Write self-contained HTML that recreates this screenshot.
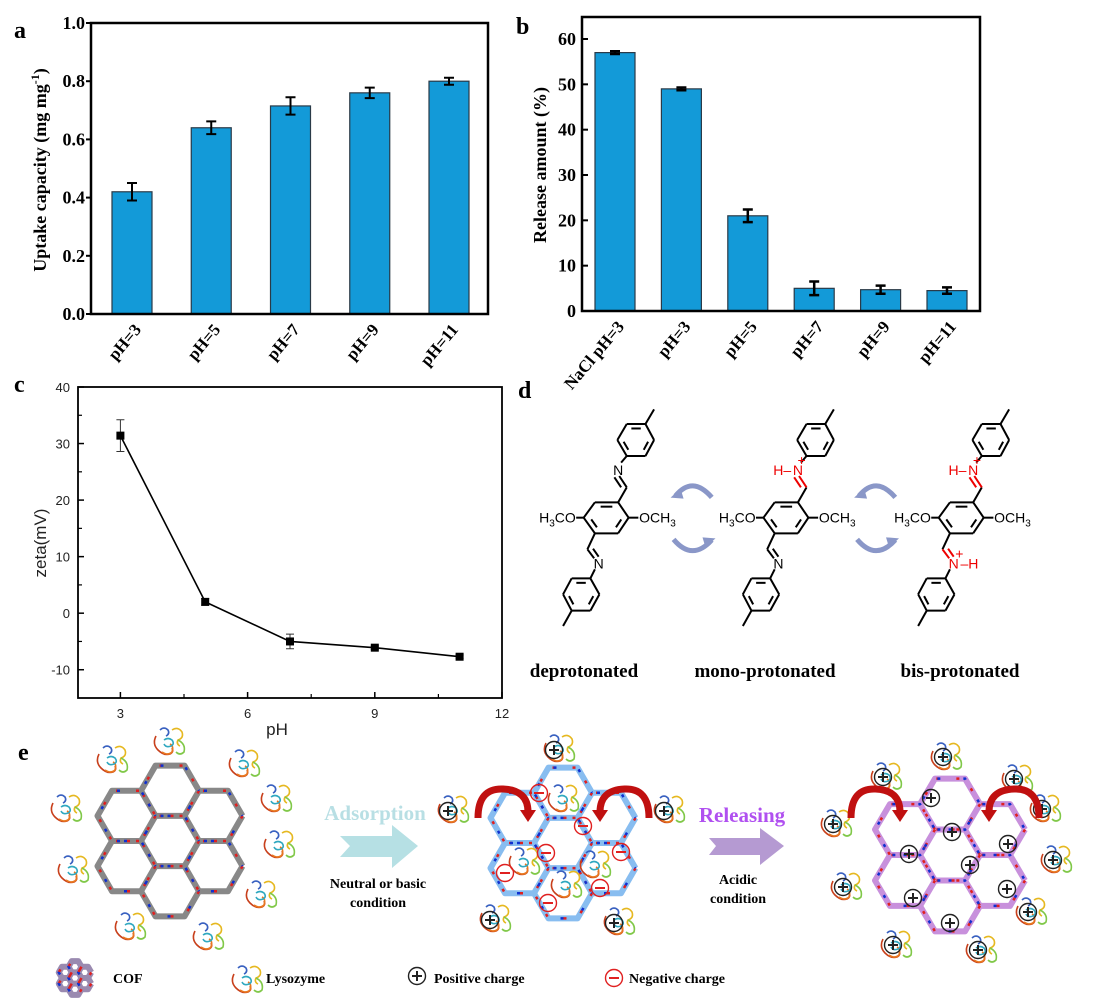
<!DOCTYPE html>
<html><head><meta charset="utf-8"><style>
html,body{margin:0;padding:0;background:#fff;}
svg{display:block;}
.serif{font-family:"Liberation Serif",serif;font-weight:bold;}
.sans{font-family:"Liberation Sans",sans-serif;}
</style></head><body>
<svg id="fig" width="1104" height="1000" viewBox="0 0 1104 1000" xmlns="http://www.w3.org/2000/svg">
<text x="14" y="38" class="serif" font-size="24">a</text>
<text x="516" y="34" class="serif" font-size="24">b</text>
<text x="14" y="392" class="serif" font-size="24">c</text>
<text x="518" y="398" class="serif" font-size="24">d</text>
<text x="18" y="760" class="serif" font-size="24">e</text>
<g id="ga"></g>
<g id="gb"></g>
<g id="gc"></g>
<g id="gd"></g>
<g id="ge"></g>
</svg>
<script>
// ---- Panel a data ----
const aCats=['pH=3','pH=5','pH=7','pH=9','pH=11'];
const aVals=[0.42,0.64,0.715,0.76,0.80];
const aErr=[0.03,0.022,0.03,0.018,0.012];
const aTicks=[0.0,0.2,0.4,0.6,0.8,1.0];
// ---- Panel b data ----
const bCats=['NaCl pH=3','pH=3','pH=5','pH=7','pH=9','pH=11'];
const bVals=[57,49,21,5,4.7,4.5];
const bErr=[0.3,0.3,1.4,1.5,0.9,0.7];
const bTicks=[0,10,20,30,40,50,60];
// ---- Panel c data ----
const cX=[3,5,7,9,11];
const cY=[31.4,2,-5,-6.1,-7.7];
const cErr=[2.8,0.6,1.3,0.3,0.3];
const cXTicks=[3,6,9,12];
const cYTicks=[-10,0,10,20,30,40];

const NS='http://www.w3.org/2000/svg';
function mk(tag,attrs,parent){const e=document.createElementNS(NS,tag);for(const k in attrs)e.setAttribute(k,attrs[k]);parent.appendChild(e);return e;}
function txt(s,attrs,parent){const e=mk('text',attrs,parent);e.textContent=s;return e;}

// ================= Panel A =================
(function(){
const g=document.getElementById('ga');
const L=91,R=488,T=23,B=314;
const ya=v=>B-(v/1.0)*(B-T);
const xa=i=>L+41+i*79.25;
const bw=40;
aVals.forEach((v,i)=>{
  const r=mk('rect',{x:xa(i)-bw/2,y:ya(v),width:bw,height:B-ya(v),fill:'#139ad8',stroke:'#2a3a48','stroke-width':1.2},g);
  
  
  const e=mk('path',{d:`M${xa(i)} ${ya(v+aErr[i])}V${ya(v-aErr[i])}M${xa(i)-5} ${ya(v+aErr[i])}h10M${xa(i)-5} ${ya(v-aErr[i])}h10`,stroke:'#000','stroke-width':2,fill:'none'},g);
  
  
  const t=txt(aCats[i],{x:xa(i)+10,y:B+16,'text-anchor':'end',class:'serif','font-size':17,transform:`rotate(-50 ${xa(i)+10} ${B+16})`},g);
  
  
});
const f=mk('rect',{x:L,y:T,width:R-L,height:B-T,fill:'none',stroke:'#000','stroke-width':2.5},g);


aTicks.forEach(v=>{
  mk('line',{x1:L-5,x2:L,y1:ya(v),y2:ya(v),stroke:'#000','stroke-width':2},g);
  const t=txt(v.toFixed(1),{x:L-6,y:ya(v)+6,'text-anchor':'end',class:'serif','font-size':18},g);
  
  
});
const yt=mk('text',{x:0,y:0,transform:'translate(46 170) rotate(-90)','text-anchor':'middle',class:'serif','font-size':18},g);
yt.innerHTML='Uptake capacity (mg mg<tspan dy="-7" font-size="12">-1</tspan><tspan dy="7">)</tspan>';


})();

// ================= Panel B =================
(function(){
const g=document.getElementById('gb');
const L=582,R=980,T=17,B=311;
const yb=v=>B-v*(B-39)/60;
const xb=i=>615+i*66.4;
const bw=40;
bVals.forEach((v,i)=>{
  const r=mk('rect',{x:xb(i)-bw/2,y:yb(v),width:bw,height:B-yb(v),fill:'#139ad8',stroke:'#2a3a48','stroke-width':1.2},g);
  
  
  const e=mk('path',{d:`M${xb(i)} ${yb(v+bErr[i])}V${yb(v-bErr[i])}M${xb(i)-5} ${yb(v+bErr[i])}h10M${xb(i)-5} ${yb(v-bErr[i])}h10`,stroke:'#000','stroke-width':2.5,fill:'none'},g);
  
  
  const t=txt(bCats[i],{x:xb(i)+10,y:B+16,'text-anchor':'end',class:'serif','font-size':17,transform:`rotate(-50 ${xb(i)+10} ${B+16})`},g);
  
  
});
const f=mk('rect',{x:L,y:T,width:R-L,height:B-T,fill:'none',stroke:'#000','stroke-width':2.5},g);


bTicks.forEach(v=>{
  mk('line',{x1:L,x2:L+6,y1:yb(v),y2:yb(v),stroke:'#000','stroke-width':2},g);
  const t=txt(String(v),{x:L-6,y:yb(v)+6,'text-anchor':'end',class:'serif','font-size':18},g);
  
  
});
const yt=txt('Release amount (%)',{x:0,y:0,transform:'translate(546 165) rotate(-90)','text-anchor':'middle',class:'serif','font-size':18},g);


})();

// ================= Panel C =================
(function(){
const g=document.getElementById('gc');
const L=78,R=502,T=387,B=698;
const xc=p=>L+(p-2)*(R-L)/10;
const yc=v=>T+(40-v)*(B-T)/55;
const f=mk('rect',{x:L,y:T,width:R-L,height:B-T,fill:'none',stroke:'#000','stroke-width':1.8},g);


cXTicks.forEach(p=>{
  mk('line',{x1:xc(p),x2:xc(p),y1:B,y2:B-6,stroke:'#000','stroke-width':1.5},g);
  const t=txt(String(p),{x:xc(p),y:B+20,'text-anchor':'middle',class:'sans','font-size':13,fill:'#222'},g);
  
  
});
[4.5,7.5,10.5].forEach(p=>mk('line',{x1:xc(p),x2:xc(p),y1:B,y2:B-4,stroke:'#000','stroke-width':1.2},g));
cYTicks.forEach(v=>{
  mk('line',{x1:L,x2:L+6,y1:yc(v),y2:yc(v),stroke:'#000','stroke-width':1.5},g);
  const t=txt(String(v),{x:L-8,y:yc(v)+5,'text-anchor':'end',class:'sans','font-size':13,fill:'#222'},g);
  
  
});
[-5,5,15,25,35].forEach(v=>mk('line',{x1:L,x2:L+4,y1:yc(v),y2:yc(v),stroke:'#000','stroke-width':1.2},g));
const line=mk('polyline',{points:cX.map((p,i)=>xc(p)+','+yc(cY[i])).join(' '),fill:'none',stroke:'#000','stroke-width':1.6},g);


cX.forEach((p,i)=>{
  const e=mk('path',{d:`M${xc(p)} ${yc(cY[i]+cErr[i])}V${yc(cY[i]-cErr[i])}M${xc(p)-4} ${yc(cY[i]+cErr[i])}h8M${xc(p)-4} ${yc(cY[i]-cErr[i])}h8`,stroke:'#333','stroke-width':1},g);
  
  
  const m=mk('rect',{x:xc(p)-4,y:yc(cY[i])-4,width:8,height:8,fill:'#000'},g);
  
  
});
const xt=txt('pH',{x:277,y:735,'text-anchor':'middle',class:'sans','font-size':17,fill:'#222'},g);


const yt=txt('zeta(mV)',{x:0,y:0,transform:'translate(46 543) rotate(-90)','text-anchor':'middle',class:'sans','font-size':17,fill:'#222'},g);


})();

// ================= Panel D =================
(function(){
const g=document.getElementById('gd');
const X=(zx,o)=>520+(zx+o)/2.67, Y=zy=>370+zy/3;
function seg(a,b,o,col,w){return mk('line',{x1:X(a[0],o),y1:Y(a[1]),x2:X(b[0],o),y2:Y(b[1]),stroke:col||'#000','stroke-width':w||2},g);}
function ring(pts,o){
  for(let i=0;i<6;i++)seg(pts[i],pts[(i+1)%6],o);
  const cx=pts.reduce((s,p)=>s+p[0],0)/6, cy=pts.reduce((s,p)=>s+p[1],0)/6;
  [[1,2],[3,4],[5,0]].forEach(([a,b])=>{
    const s=0.72, p1=[cx+(pts[a][0]-cx)*s,cy+(pts[a][1]-cy)*s], p2=[cx+(pts[b][0]-cx)*s,cy+(pts[b][1]-cy)*s];
    const m1=[p1[0]+(p2[0]-p1[0])*0.15,p1[1]+(p2[1]-p1[1])*0.15], m2=[p1[0]+(p2[0]-p1[0])*0.85,p1[1]+(p2[1]-p1[1])*0.85];
    seg(m1,m2,o);
  });
}
function t(s,zx,zy,o,col,anchor,name){
  const e=mk('text',{x:X(zx,o),y:Y(zy)+5,fill:col||'#000','text-anchor':anchor||'middle',class:'sans','font-size':14},g);
  e.innerHTML=s;
  
  
  return e;
}
function mol(o,top,bot,name){
  const c=[[170,443],[200,397],[262,397],[290,443],[262,490],[200,490]];
  ring(c,o);
  ring([[260,210],[285,162],[335,162],[358,210],[335,258],[285,258]],o);
  ring([[115,673],[138,625],[188,625],[212,673],[188,722],[138,722]],o);
  seg([335,162],[358,118],o);seg([138,722],[115,768],o);
  seg([150,443],[170,443],o);seg([290,443],[316,443],o);
  t('H<tspan font-size="10" dy="4">3</tspan><tspan dy="-4">CO</tspan>',149,443,o,'#000','end','methoxy-left');
  t('OCH<tspan font-size="10" dy="4">3</tspan>',318,443,o,'#000','start','methoxy-right');
  const tc=top?'#e00':'#000', bc=bot?'#e00':'#000';
  seg([262,397],[285,352],o);
  seg([285,352],[265,318],o,tc);seg([270,352],[252,322],o,tc);
  seg([270,278],[285,258],o);
  t('N',262,300,o,tc,'middle','imine-n-top');
  if(top){t('H–',220,300,o,tc,'middle','imine-h-top');t('+',272,270,o,tc,'middle','charge-top');}
  seg([200,490],[180,538],o);
  seg([180,538],[198,565],o,bc);seg([195,536],[210,560],o,bc);
  seg([200,598],[188,625],o);
  t('N',210,580,o,bc,'middle','imine-n-bottom');
  if(bot){t('–H',252,580,o,bc,'middle','imine-h-bottom');t('+',225,550,o,bc,'middle','charge-bottom');}
}
mol(0,false,false);mol(480,true,false);mol(948,true,true);
[0,490].forEach(o=>{
  const a=mk('path',{d:`M${X(415,o)} ${Y(378)} Q${X(460,o)} ${Y(315)} ${X(512,o)} ${Y(382)} M${X(512,o)} ${Y(510)} Q${X(460,o)} ${Y(575)} ${X(410,o)} ${Y(508)}`,fill:'none',stroke:'#8a97c8','stroke-width':5},g);
  
  
  mk('path',{d:`M${X(402,o)} ${Y(383)} l10 -9 l3 10z M${X(522,o)} ${Y(505)} l-10 9 l-3 -10z`,fill:'#8a97c8'},g);
});
[['deprotonated',584],['mono-protonated',765],['bis-protonated',960]].forEach(([s,x])=>{
  const e=txt(s,{x:x,y:677,'text-anchor':'middle',class:'serif','font-size':19},g);
  
  
});
})();

// ================= Panel E =================
(function(){
const g=document.getElementById('ge');
function flower(cx,cy,s,sy,col,name,dots){
  const grp=mk('g',{},g);
  
  
  const centers=[[0,0]];
  for(let k=0;k<6;k++){const a=Math.PI/6+k*Math.PI/3;centers.push([Math.cos(a)*Math.sqrt(3)*s,Math.sin(a)*Math.sqrt(3)*s]);}
  let d='';
  centers.forEach(([hx,hy])=>{
    for(let k=0;k<=6;k++){const a=k*Math.PI/3;d+=(k?'L':'M')+(cx+hx+s*Math.cos(a))+' '+(cy+(hy+s*Math.sin(a))*sy);}
  });
  mk('path',{d:d,fill:'none',stroke:col,'stroke-width':6,'stroke-linejoin':'round'},grp);
  mk('path',{d:d,fill:'none',stroke:'#e02020','stroke-width':2.5,'stroke-dasharray':'3 17'},grp);
  mk('path',{d:d,fill:'none',stroke:'#1030d0','stroke-width':2.5,'stroke-dasharray':'3 23','stroke-dashoffset':9},grp);
}
function lyso(x,y,name){
  const grp=mk('g',{transform:`translate(${x-18} ${y-14})`,fill:'none','stroke-width':1.6},g);
  
  
  mk('path',{d:'M4 10 q-4 8 2 14 q6 6 12 4 q4 -2 2 -6',stroke:'#c8401c'},grp);
  mk('path',{d:'M10 26 q6 4 10 0 q2 -6 -2 -8',stroke:'#e87820'},grp);
  mk('path',{d:'M20 4 q6 -4 10 2 q2 6 -4 8 q-2 4 2 6',stroke:'#e6b820'},grp);
  mk('path',{d:'M26 14 q8 4 6 12 q-4 4 -8 0',stroke:'#80c848'},grp);
  mk('path',{d:'M8 4 q4 -4 8 0 q2 4 -2 6',stroke:'#3860c0'},grp);
  mk('path',{d:'M12 14 q4 -3 8 0 q3 4 -1 6 q-5 2 -7 -2',stroke:'#30a8c0'},grp);
}
function charge(x,y,sign,col,name){
  const c=mk('circle',{cx:x,cy:y,r:8.5,fill:'none',stroke:col,'stroke-width':1.4},g);
  
  
  mk('path',{d:sign>0?`M${x-5} ${y}h10M${x} ${y-5}v10`:`M${x-5} ${y}h10`,stroke:sign>0?'#222':'#e02020','stroke-width':2},g);
}
flower(170,841,29,1.0,'#888','cof-neutral');
flower(563,843,29,1.0,'#88bdf0','cof-adsorbed');
flower(950,855,30,0.98,'#c890dc','cof-released');
[[170,740],[113,758],[245,762],[277,797],[67,807],[280,843],[74,868],[262,893],[131,925],[209,935]].forEach(p=>lyso(p[0],p[1],'lysozyme-free'));
[[564,797],[525,860],[567,883],[596,863]].forEach(p=>lyso(p[0],p[1],'lysozyme-bound'));
[[560,747],[454,808],[670,808],[496,917],[620,920]].forEach(p=>{lyso(p[0],p[1],'lysozyme-free');charge(p[0]-6,p[1]+3,1,'#222','positive-charge');});
[[539,793],[583,826],[546,853],[621,852],[505,873],[600,888],[548,903]].forEach(p=>charge(p[0],p[1],-1,'#e02020','negative-charge'));
[[947,755],[887,775],[1018,777],[837,822],[1046,807],[1057,858],[847,885],[1032,910],[897,943],[982,948]].forEach(p=>{lyso(p[0],p[1],'lysozyme-released');charge(p[0]-4,p[1]+2,1,'#222','positive-charge');});
[[931,798],[952,832],[1008,844],[909,854],[970,865],[1007,889],[913,898],[950,923]].forEach(p=>charge(p[0],p[1],1,'#222','positive-charge'));
// curved red arrows
[[478,528,1],[649,600,-1],[851,900,1],[1039,989,-1]].forEach(([a,b,dir])=>{
  const m=(a+b)/2;
  const p=mk('path',{d:`M${a} 818 Q${a} 788 ${m} 789 Q${b} 790 ${b} 812`,fill:'none',stroke:'#c01010','stroke-width':7},g);
  
  
  mk('path',{d:`M${b-8} 810 L${b+8} 810 L${b} 822z`,fill:'#c01010'},g);
});
// block arrows
const a1=mk('path',{d:'M340 836 H392 V825 L418 846 L392 868 V857 H340 L350 846z',fill:'#b6e0e4'},g);


const a2=mk('path',{d:'M709 838 H760 V828 L784 846 L760 865 V855 H709 L716 846z',fill:'#b59ad2'},g);


const items=[
 ['Adsorption',375,820,21,'#b8dfe4','adsorption-label'],
 ['Neutral or basic',378,888,14,'#000','condition-label'],
 ['condition',378,907,14,'#000','condition-label'],
 ['Releasing',742,822,21,'#b050f0','releasing-label'],
 ['Acidic',738,884,14,'#000','acidic-label'],
 ['condition',738,903,14,'#000','acidic-condition-label'],
];
items.forEach(([s,x,y,fs,col,n])=>{
  const e=txt(s,{x:x,y:y,'text-anchor':'middle',class:'serif','font-size':fs,fill:col},g);
  
  
});
// legend
const lg=mk('g',{},g);


const sv=g; 
flower(75,978,6.5,1.0,'#9a8ab0','legend-cof-icon');
lyso(248,978,'legend-lysozyme-icon');
charge(417,976,1,'#222','legend-positive-icon');
charge(614,978,-1,'#e02020','legend-negative-icon');
[['COF',113],['Lysozyme',266],['Positive charge',434],['Negative charge',629]].forEach(([s,x])=>{
  const e=txt(s,{x:x,y:983,class:'serif','font-size':14},lg);
  
  
});
})();
</script>
</body></html>
